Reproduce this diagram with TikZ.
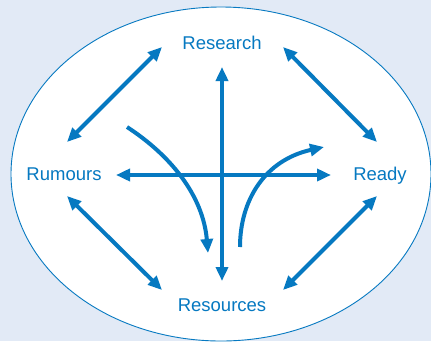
\documentclass[tikz,border=0pt]{standalone}
\usepackage{fontspec}
\setmainfont{Liberation Sans}
\usetikzlibrary{arrows.meta}
\definecolor{flowblue}{HTML}{0679C1}
\definecolor{panelbg}{HTML}{E2EAF6}
\tikzset{
  label/.style={text=flowblue, font=\fontsize{18.5}{20}\selectfont, inner sep=0pt, anchor=base},
  link/.style={draw=flowblue, line width=4pt,
    {Triangle[length=14pt,width=12pt]}-{Triangle[length=14pt,width=12pt]}},
  oneway/.style={draw=flowblue, line width=4pt, -{Triangle[length=14pt,width=12pt]}}
}
\begin{document}
\begin{tikzpicture}[x=1pt,y=-1pt]
  % background panel and the enclosing ellipse
  \fill[panelbg] (0,0) rectangle (431,341);
  \useasboundingbox (0,0) rectangle (431,341);
  \filldraw[fill=white, draw=flowblue, line width=0.9pt] (221,174) ellipse [x radius=210, y radius=167];

  % the four labels, placed on their baselines
  \node[label] (research)  at (222,49)  {Research};
  \node[label] (rumours)   at (64,180)  {Rumours};
  \node[label] (ready)     at (380,180) {Ready};
  \node[label] (resources) at (222,311) {Resources};

  % arrow end points
  \coordinate (rsA) at (162,47);  \coordinate (rmA) at (67,142);
  \coordinate (rsB) at (283,47);  \coordinate (rdA) at (377,142);
  \coordinate (rmB) at (67,196);  \coordinate (reA) at (162,290);
  \coordinate (rdB) at (377,196); \coordinate (reB) at (283,290);
  \coordinate (vtop) at (222,67); \coordinate (vbot) at (222,281);
  \coordinate (hl) at (116,175);  \coordinate (hr) at (331,175);
  \coordinate (cl0) at (127,127); \coordinate (cl1) at (208,253);
  \coordinate (cr0) at (240,247); \coordinate (cr1) at (324,147);

  % two-way links around the ring
  \draw[link] (rsA) -- (rmA);
  \draw[link] (rsB) -- (rdA);
  \draw[link] (rmB) -- (reA);
  \draw[link] (rdB) -- (reB);

  % central cross
  \draw[link] (vtop) -- (vbot);
  \draw[link] (hl) -- (hr);

  % curved flows
  \draw[oneway] (cl0) .. controls (170,155) and (203,195) .. (cl1);
  \draw[oneway] (cr0) .. controls (240,200) and (265,160) .. (cr1);
\end{tikzpicture}
\end{document}
